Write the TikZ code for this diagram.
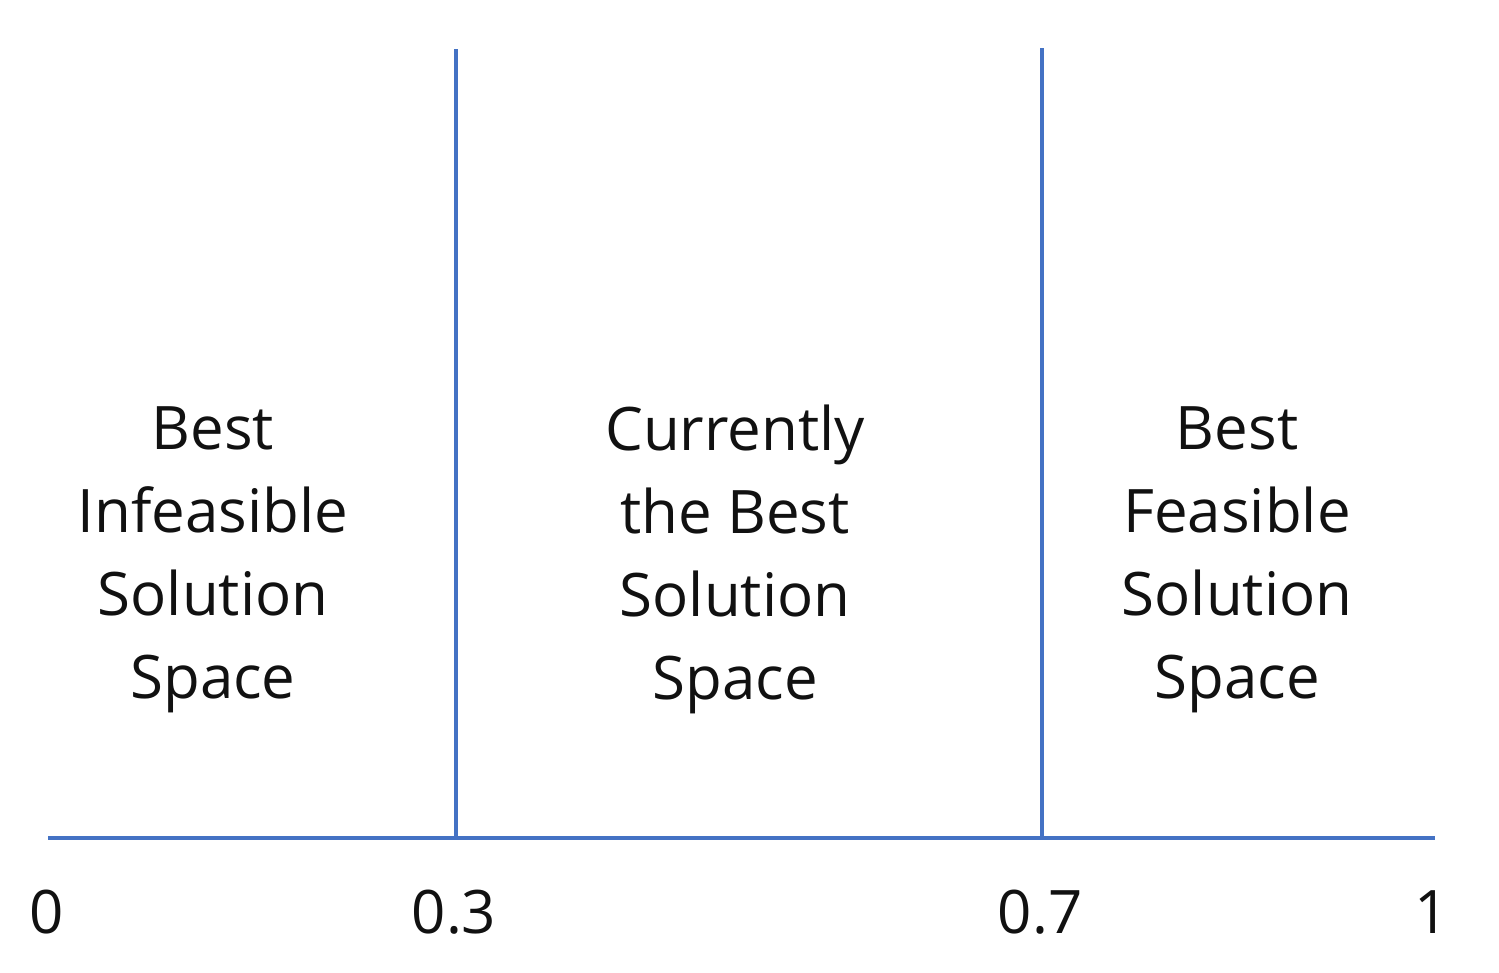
\documentclass[tikz,border=0pt]{standalone}
\usepackage{fontspec}
\setmainfont{Open Sans}
\definecolor{axisblue}{HTML}{4472C4}
\definecolor{txt}{HTML}{111111}
\tikzset{
  axis/.style={draw=axisblue, line width=4.5pt},
  region/.style={align=center, inner sep=0pt, text=txt, font=\fontsize{60}{83}\selectfont},
  ticklabel/.style={inner sep=0pt, anchor=base, text=txt, font=\fontsize{60}{83}\selectfont}
}
\begin{document}
\begin{tikzpicture}[x=1pt,y=-1pt]
\useasboundingbox (0,0) rectangle (1499,972);
\coordinate (a0) at (48,838);
\coordinate (a1) at (1435,838);
\coordinate (p3) at (456,838);
\coordinate (p3t) at (456,49);
\coordinate (p7) at (1042,838);
\coordinate (p7t) at (1042,48);
\draw[axis] (a0) -- (a1);
\draw[axis] (p3) -- (p3t);
\draw[axis] (p7) -- (p7t);
\node[region] (left) at (213,560) {Best\\Infeasible\\Solution\\Space};
\node[region] (mid) at (735,559) {Currently\\the Best\\Solution\\Space};
\node[region] (right) at (1237,560) {Best\\Feasible\\Solution\\Space};
\node[ticklabel] (t0) at (47,933) {0};
\node[ticklabel] (t3) at (454,933) {0.3};
\node[ticklabel] (t7) at (1040,933) {0.7};
\node[ticklabel] (t1) at (1432,933) {1};
\end{tikzpicture}
\end{document}
